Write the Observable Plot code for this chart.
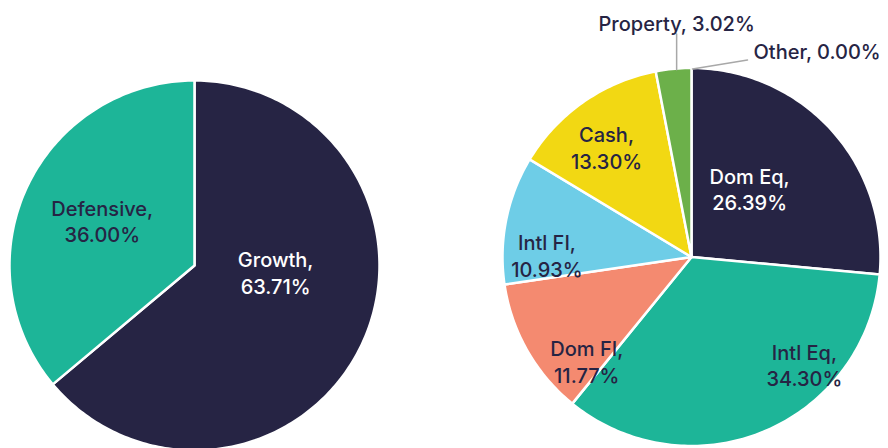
<!DOCTYPE html>
<html>
<head>
<meta charset="utf-8">
<script src="https://cdn.jsdelivr.net/npm/d3@7"></script>
<script src="https://cdn.jsdelivr.net/npm/@observablehq/plot@0.6"></script>
<style>
  html, body { margin: 0; padding: 0; background: #ffffff; }
  #chart { width: 888px; height: 448px; }
</style>
</head>
<body>
<div id="chart"></div>
<script>
// ---- Data ----
const leftCategories = ["Growth", "Defensive"];
const leftValues = [63.71, 36.00];
const rightCategories = ["Dom Eq", "Intl Eq", "Dom FI", "Intl FI", "Cash", "Property", "Other"];
const rightValues = [26.39, 34.30, 11.77, 10.93, 13.30, 3.02, 0.00];

// ---- Styles / layout ----
const sliceColors = {
  "Growth": "#262444", "Defensive": "#1db598",
  "Dom Eq": "#262444", "Intl Eq": "#1db598", "Dom FI": "#f48a70",
  "Intl FI": "#6ecde7", "Cash": "#f2d813", "Property": "#6cb04a", "Other": "#9aa0a6"
};
const darkText = "#262444";
const whiteLabels = new Set(["Growth", "Dom Eq"]);
const outsideLabels = new Set(["Property", "Other"]);
const pies = [
  {id: "left", cx: 194, cy: 265, r: 185, categories: leftCategories, values: leftValues},
  {id: "right", cx: 691, cy: 256.5, r: 189, categories: rightCategories, values: rightValues}
];
// label placement: angular nudge (degrees) from slice mid-angle, radial fraction
const labelLayout = {
  "Growth": [-20.4, 0.44], "Defensive": [1, 0.555],
  "Dom Eq": [-7.3, 0.475], "Intl Eq": [-23.6, 0.825], "Dom FI": [-15.1, 0.78],
  "Intl FI": [-10.6, 0.765], "Cash": [-2.8, 0.735]
};

const fmt = v => v.toFixed(2) + "%";

// ---- Geometry from values ----
const slices = [];
for (const p of pies) {
  const total = d3.sum(p.values);
  let acc = 0;
  p.categories.forEach((c, i) => {
    const a0 = acc / total * 2 * Math.PI;
    acc += p.values[i];
    const a1 = acc / total * 2 * Math.PI;
    slices.push({pie: p, category: c, value: p.values[i], a0, a1, mid: (a0 + a1) / 2});
  });
}
const pt = (p, a, rr) => ({x: p.cx + rr * Math.sin(a), y: p.cy - rr * Math.cos(a)});

const polyPoints = [];
for (const s of slices) {
  if (s.a1 - s.a0 <= 0) continue;
  const key = s.pie.id + ":" + s.category;
  polyPoints.push({key, category: s.category, ...pt(s.pie, 0, 0)});
  const n = Math.max(2, Math.ceil((s.a1 - s.a0) / (Math.PI / 180)));
  for (let k = 0; k <= n; k++) {
    const a = s.a0 + (s.a1 - s.a0) * k / n;
    polyPoints.push({key, category: s.category, ...pt(s.pie, a, s.pie.r)});
  }
}

const inLabels = slices.filter(s => !outsideLabels.has(s.category)).map(s => {
  const [da, f] = labelLayout[s.category];
  const a = s.mid + da * Math.PI / 180;
  return {category: s.category, text: s.category + ",\n" + fmt(s.value), ...pt(s.pie, a, s.pie.r * f)};
});

// outside labels with leader lines
const leaders = [];
const outLabels = [];
for (const s of slices.filter(s => outsideLabels.has(s.category))) {
  const p0 = pt(s.pie, s.mid, s.pie.r - 1);
  const key = s.category;
  if (s.category === "Property") {
    const top = s.pie.cy - s.pie.r - 34;
    leaders.push({key, x: p0.x + 3, y: p0.y}, {key, x: p0.x + 3, y: top});
    outLabels.push({category: s.category, text: s.category + ", " + fmt(s.value), x: p0.x + 3, y: top - 9.5, anchor: "middle"});
  } else {
    const end = {x: p0.x + 56, y: p0.y - 9};
    leaders.push({key, x: p0.x + 1, y: p0.y}, {key, ...end});
    outLabels.push({category: s.category, text: s.category + ", " + fmt(s.value), x: end.x + 6, y: end.y - 7, anchor: "start"});
  }
}

const allCats = Object.keys(sliceColors);

const chart = Plot.plot({
  width: 888,
  height: 448,
  margin: 0,
  x: {domain: [0, 888], range: [0, 888], axis: null},
  y: {domain: [0, 448], range: [0, 448], axis: null},
  color: {domain: allCats, range: allCats.map(c => sliceColors[c])},
  style: {fontFamily: "Inter, 'Noto Sans', sans-serif", background: "#ffffff", overflow: "visible"},
  marks: [
    Plot.line(polyPoints, {x: "x", y: "y", z: "key", fill: "category", stroke: "#ffffff", strokeWidth: 2.5, strokeLinejoin: "round", curve: "linear-closed"}),
    Plot.line(leaders, {x: "x", y: "y", z: "key", stroke: "#a8a8a8", strokeWidth: 1.5}),
    Plot.text(inLabels.filter(d => whiteLabels.has(d.category)), {x: "x", y: "y", text: "text", fill: "#ffffff", fontSize: 20, lineHeight: 1.33, fontWeight: 500}),
    Plot.text(inLabels.filter(d => !whiteLabels.has(d.category)), {x: "x", y: "y", text: "text", fill: darkText, fontSize: 20, lineHeight: 1.33, fontWeight: 500}),
    Plot.text(outLabels.filter(d => d.anchor === "middle"), {x: "x", y: "y", text: "text", fill: darkText, fontSize: 20, fontWeight: 500, textAnchor: "middle"}),
    Plot.text(outLabels.filter(d => d.anchor === "start"), {x: "x", y: "y", text: "text", fill: darkText, fontSize: 20, fontWeight: 500, textAnchor: "start"})
  ]
});
document.getElementById("chart").appendChild(chart);
</script>
</body>
</html>
